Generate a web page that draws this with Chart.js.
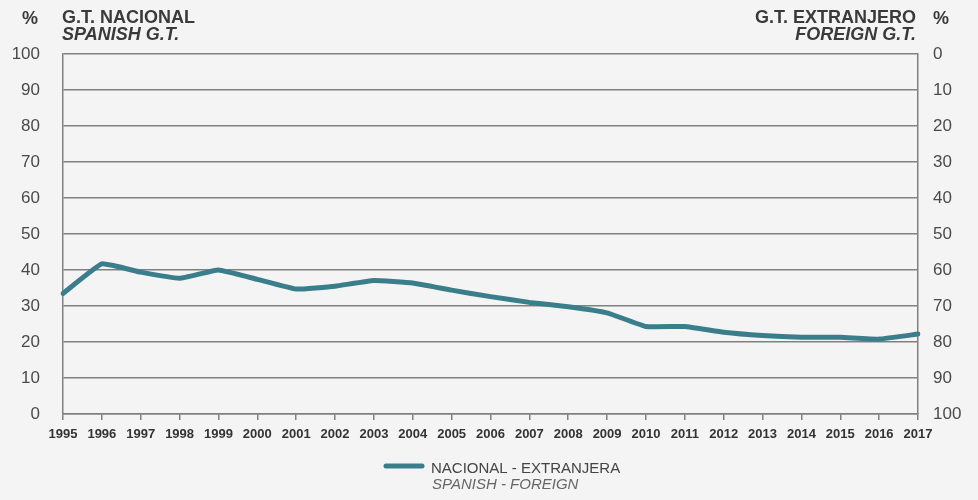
<!DOCTYPE html>
<html>
<head>
<meta charset="utf-8">
<script src="https://cdn.jsdelivr.net/npm/chart.js@4"></script>
<style>
html,body{margin:0;padding:0;background:#f4f4f4;}
canvas{display:block;}
</style>
</head>
<body>
<canvas id="c" width="978" height="500"></canvas>
<script>
const years = ['1995','1996','1997','1998','1999','2000','2001','2002','2003','2004','2005','2006','2007','2008','2009','2010','2011','2012','2013','2014','2015','2016','2017'];
const nacionalShare = [33.5,41.7,39.4,37.7,40.0,37.4,34.7,35.5,37.1,36.4,34.4,32.6,31.0,29.8,28.1,24.3,24.3,22.7,21.8,21.3,21.3,20.8,22.2];
const leftTicks = [0,10,20,30,40,50,60,70,80,90,100];
const seriesLabel = 'NACIONAL - EXTRANJERA';
const seriesLabelEn = 'SPANISH - FOREIGN';
const leftTitle = ['G.T. NACIONAL','SPANISH G.T.'];
const rightTitle = ['G.T. EXTRANJERO','FOREIGN G.T.'];

const LINE = '#3b7e8b';
const GRID = '#808080';
const FONT = '"Liberation Sans", Arial, sans-serif';

const deco = {
  id:'deco',
  beforeDraw(chart){
    const c = chart.ctx;
    c.save();
    c.fillStyle = '#f4f4f4';
    c.fillRect(0,0,chart.width,chart.height);
    c.restore();
  },
  afterDraw(chart){
    const c = chart.ctx;
    const a = chart.chartArea;
    c.save();
    c.textBaseline = 'alphabetic';
    c.fillStyle = '#3a3a3a';
    c.font = 'bold 18px ' + FONT;
    c.textAlign = 'left';
    c.fillText('%', 22, 24);
    c.fillText(leftTitle[0], a.left - 1, 23);
    c.textAlign = 'right';
    c.fillText(rightTitle[0], a.right - 2, 23);
    c.textAlign = 'left';
    c.fillText('%', a.right + 15, 24);
    c.font = 'italic bold 18px ' + FONT;
    c.fillText(leftTitle[1], a.left - 1, 40);
    c.textAlign = 'right';
    c.fillText(rightTitle[1], a.right - 2, 40);
    // legend
    c.strokeStyle = LINE;
    c.lineWidth = 5;
    c.lineCap = 'round';
    c.beginPath();
    c.moveTo(386, 466);
    c.lineTo(422, 466);
    c.stroke();
    c.textAlign = 'left';
    c.fillStyle = '#444';
    c.font = '15px ' + FONT;
    c.fillText(seriesLabel, 431, 473);
    c.fillStyle = '#666';
    c.font = 'italic 15px ' + FONT;
    c.fillText(seriesLabelEn, 432, 489);
    c.restore();
  }
};

new Chart(document.getElementById('c'), {
  type:'line',
  data:{
    labels: years,
    datasets:[{
      label: seriesLabel,
      data: nacionalShare,
      borderColor: LINE,
      backgroundColor: LINE,
      borderWidth: 5,
      pointRadius: 0,
      tension: 0.1,
      borderJoinStyle: 'round',
      borderCapStyle: 'round',
      yAxisID: 'y'
    }]
  },
  plugins:[deco],
  options:{
    responsive:false,
    animation:false,
    devicePixelRatio:1,
    layout:{padding:{top:54,left:0,right:0,bottom:0}},
    plugins:{legend:{display:false},tooltip:{enabled:false}},
    scales:{
      x:{
        offset:false,
        grid:{drawOnChartArea:false, drawTicks:true, tickLength:6, color:GRID, lineWidth:1.5},
        border:{display:true, color:GRID, width:1.5},
        ticks:{autoSkip:false, maxRotation:0, minRotation:0, padding:7, color:'#333', font:{family:FONT, size:13, weight:'bold'}},
        afterFit(s){ s.height = 86; }
      },
      y:{
        position:'left',
        min:0, max:100,
        afterBuildTicks(s){ s.ticks = leftTicks.map(v=>({value:v})); },
        grid:{drawTicks:false, color:GRID, lineWidth:1.5},
        border:{display:true, color:GRID, width:1.5},
        ticks:{padding:23, color:'#4a4a4a', font:{family:FONT, size:17}},
        afterFit(s){ s.width = 63; }
      },
      y2:{
        position:'right',
        reverse:true,
        min:0, max:100,
        afterBuildTicks(s){ s.ticks = leftTicks.map(v=>({value:v})); },
        grid:{drawOnChartArea:false, drawTicks:false, color:GRID, lineWidth:1.5},
        border:{display:true, color:GRID, width:1.5},
        ticks:{padding:15, color:'#4a4a4a', font:{family:FONT, size:17}},
        afterFit(s){ s.width = 60; }
      }
    }
  }
});
</script>
</body>
</html>
